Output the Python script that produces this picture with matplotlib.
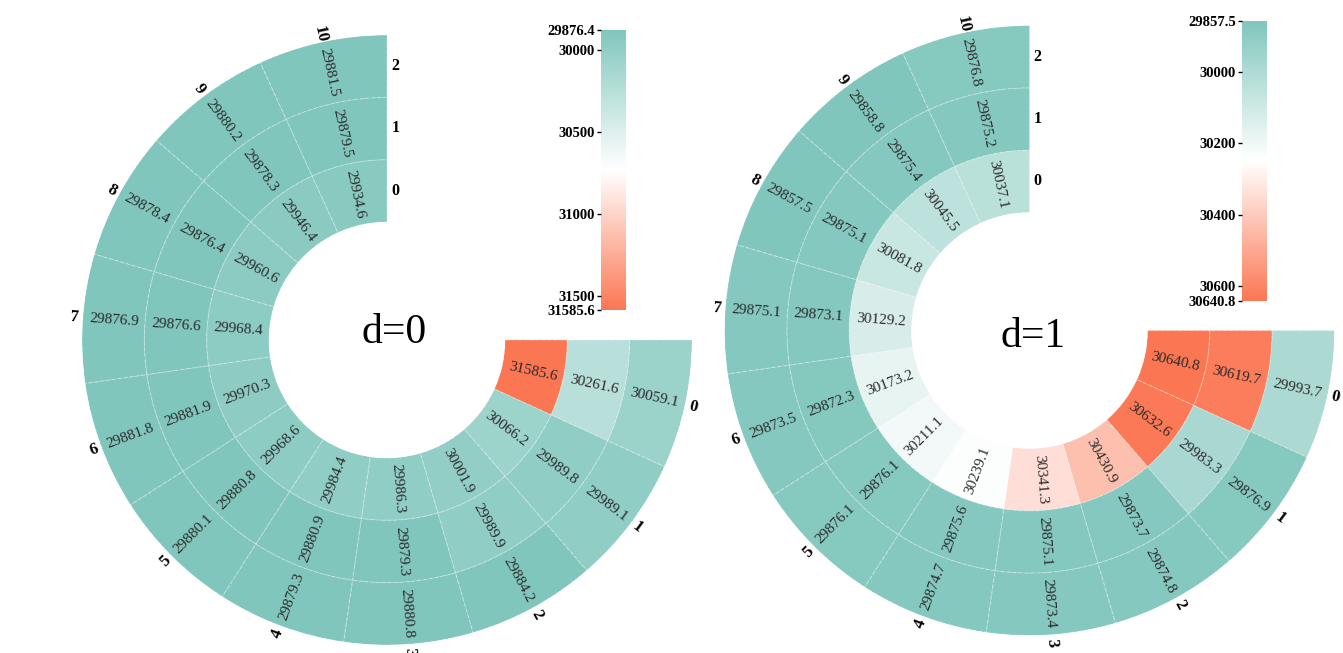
#Imports
import numpy as np
import matplotlib.pyplot as plt
from matplotlib.colors import LinearSegmentedColormap, Normalize
from matplotlib.cm import ScalarMappable

plt.rcParams["font.family"] = "Liberation Serif"

#Sector ids (clockwise from the right) and ring ids (inner to outer)
sectors = list(range(11))
rings = [0, 1, 2]

#d=0 values, one list per ring, sector 0..10
d0_ring0 = [31585.6, 30066.2, 30001.9, 29986.3, 29984.4, 29968.6, 29970.3, 29968.4, 29960.6, 29946.4, 29934.6]
d0_ring1 = [30261.6, 29989.8, 29989.9, 29879.3, 29880.9, 29880.8, 29881.9, 29876.6, 29876.4, 29878.3, 29879.5]
d0_ring2 = [30059.1, 29989.1, 29884.2, 29880.8, 29879.3, 29880.1, 29881.8, 29876.9, 29878.4, 29880.2, 29881.5]

#d=1 values
d1_ring0 = [30640.8, 30632.6, 30430.9, 30341.3, 30239.1, 30211.1, 30173.2, 30129.2, 30081.8, 30045.5, 30037.1]
d1_ring1 = [30619.7, 29983.3, 29873.7, 29875.1, 29875.6, 29876.1, 29872.3, 29873.1, 29875.1, 29875.4, 29875.2]
d1_ring2 = [29993.7, 29876.9, 29874.8, 29873.4, 29874.7, 29876.1, 29873.5, 29875.1, 29857.5, 29858.8, 29876.8]

d0_ticks = [30000, 30500, 31000, 31500]
d1_ticks = [30000, 30200, 30400, 30600]

#Colormap teal -> white -> coral
cmap = LinearSegmentedColormap.from_list("tealCoral", ["#80c6bc", "#ffffff", "#fb7753"])

W, H = 1343, 653
HOLE = 118 / 62.33          # inner hole in ring units
LABEL_R = (313 - 118) / 62.33
SPAN = 1.5 * np.pi           # 270 degrees of the circle are used
STEP = SPAN / len(sectors)


def figRect(x0, y0, x1, y1):
    #pixel box (top-left origin) -> figure fraction rect
    return [x0 / W, 1 - y1 / H, (x1 - x0) / W, (y1 - y0) / H]


def readable(theta):
    ang = -np.degrees(theta)
    if ang < -90:
        ang += 180
    return ang


def drawPanel(fig, center, ringVals, cbarBox, ticks, title, titlePos):
    cx, cy = center
    R = 305
    ax = fig.add_axes(figRect(cx - R, cy - R, cx + R, cy + R), projection='polar')
    ax.set_theta_zero_location('E')
    ax.set_theta_direction(-1)
    ax.set_rorigin(-HOLE)
    ax.set_ylim(0, 3)
    ax.patch.set_visible(False)
    #polar draw() toggles spine visibility itself, so blank their colour instead
    for sp in ax.spines.values():
        sp.set_color('none')
    ax.grid(False)
    ax.set_xticks([])
    ax.set_yticks([])

    allVals = np.concatenate(ringVals)
    vmin, vmax = allVals.min(), allVals.max()
    norm = Normalize(vmin, vmax)

    thetas = (np.array(sectors) + 0.5) * STEP
    for r, vals in zip(rings, ringVals):
        ax.bar(thetas, 1, width=STEP, bottom=r, color=cmap(norm(np.array(vals))),
               edgecolor=(1, 1, 1, 0.3), linewidth=0.8, linestyle='--', align='center')
        for t, v in zip(thetas, vals):
            ax.text(t, r + 0.5, f"{v:.1f}", rotation=readable(t), rotation_mode='anchor',
                    ha='center', va='center', fontsize=11, color='#2a2a2a')

    #sector labels round the outside
    for s, t in zip(sectors, thetas):
        ax.text(t, LABEL_R, str(s), rotation=readable(t), rotation_mode='anchor',
                ha='center', va='center', fontsize=12, fontweight='bold')

    #ring labels next to the top edge
    for r in rings:
        ax.annotate(str(r), xy=(SPAN, r + 0.5), xytext=(6, 0), textcoords='offset points',
                    ha='center', va='center', fontsize=11.5, fontweight='bold')

    fig.text(titlePos[0] / W, 1 - titlePos[1] / H, title, ha='center', va='baseline', fontsize=30)

    cax = fig.add_axes(figRect(*cbarBox))
    sm = ScalarMappable(norm=norm, cmap=cmap)
    cb = fig.colorbar(sm, cax=cax, ticks=[vmin] + ticks + [vmax])
    cb.ax.invert_yaxis()
    cb.ax.yaxis.set_ticks_position('left')
    cb.set_ticklabels([f"{vmin:.1f}"] + [str(t) for t in ticks] + [f"{vmax:.1f}"])
    cb.outline.set_visible(False)
    cb.ax.tick_params(length=3, width=1, pad=1, labelsize=10.5)
    for lbl in cb.ax.get_yticklabels():
        lbl.set_fontweight('bold')


fig = plt.figure(figsize=(W / 100, H / 100), dpi=100)
fig.patch.set_facecolor('white')

drawPanel(fig, (387, 340), [d0_ring0, d0_ring1, d0_ring2], (600.7, 30, 625.7, 310),
          d0_ticks, "d=0", (394.5, 343))
drawPanel(fig, (1029.5, 330.5), [d1_ring0, d1_ring1, d1_ring2], (1241.7, 20.7, 1267.3, 301),
          d1_ticks, "d=1", (1033, 347))

plt.savefig('out.png', dpi=100)
plt.close()
